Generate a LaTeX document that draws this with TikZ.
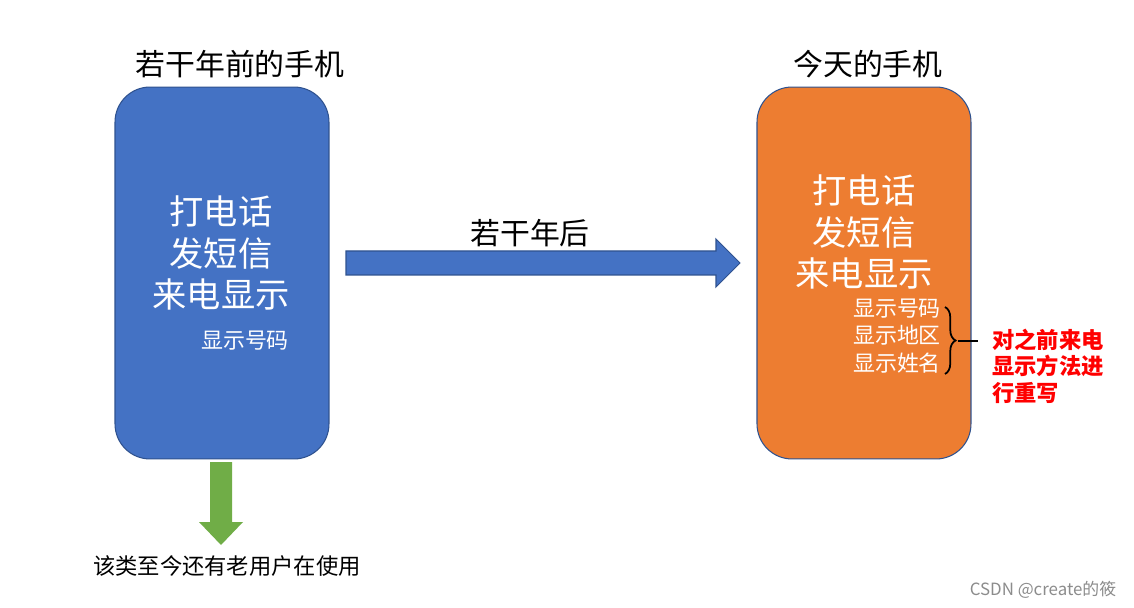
\documentclass[tikz,border=0pt]{standalone}
\usepackage{fontspec}
\setmainfont{Noto Sans CJK SC}
\usetikzlibrary{decorations.pathreplacing}
\definecolor{bluef}{HTML}{4472C4}
\definecolor{blued}{HTML}{2F528F}
\definecolor{orangef}{HTML}{ED7D31}
\definecolor{greenf}{HTML}{70AD47}
\definecolor{redt}{HTML}{FF0000}
\newcommand\ftitle{\fontsize{17}{20}\selectfont}
\newcommand\fbig{\fontsize{19.5}{23.8}\selectfont}
\newcommand\fsmall{\fontsize{12.5}{15.6}\selectfont}
\newcommand\fnote{\fontsize{12.7}{15}\selectfont}
\newcommand\fmark{\fontsize{9.6}{11}\selectfont}
\begin{document}
\begin{tikzpicture}[x=0.02cm,y=-0.02cm,
  phone/.style={draw=blued, line width=0.6pt, rounded corners=0.7cm,
    minimum width=4.28cm, minimum height=7.44cm, inner sep=0pt},
  bigtxt/.style={text=white, align=center, inner sep=0pt, font=\fbig},
  smalltxt/.style={text=white, align=center, inner sep=0pt, font=\fsmall},
  titletxt/.style={text=black, inner sep=0pt, font=\ftitle},
  arrowshape/.style={line width=0.6pt}]
\useasboundingbox (0,0) rectangle (1134,608);
\fill[white] (0,0) rectangle (1134,608);
% phones
\node[phone, fill=bluef] (old) at (222,273) {};
\node[phone, fill=orangef] (new) at (864,273) {};
% titles
\node[titletxt] (t1) at (240,64) {若干年前的手机};
\node[titletxt] (t2) at (868,64) {今天的手机};
% old phone text
\node[bigtxt] (oldtxt) at (221,253) {打电话\\发短信\\来电显示};
\node[smalltxt] (oldnum) at (245,341) {显示号码};
% new phone text
\node[bigtxt] (newtxt) at (864,232) {打电话\\发短信\\来电显示};
\node[smalltxt] (newsmall) at (897,336) {显示号码\\显示地区\\显示姓名};
% blue arrow
\draw[arrowshape, draw=blued, fill=bluef] (346,251) -- (716,251) -- (716,239) -- (740,263) -- (716,287) -- (716,275) -- (346,275) -- cycle;
\node[titletxt] (later) at (530,233) {若干年后};
% brace
\coordinate (bt) at (945,307);
\coordinate (bb) at (945,374);
\draw[line width=1pt, decorate, decoration={brace, amplitude=6pt}] (bt) -- (bb);
\coordinate (btip) at (958,341);
\node[text=redt, align=left, anchor=west, inner sep=0pt, font={\fnote\bfseries}] (note) at (992,366) {对之前来电\\显示方法进\\行重写};
\draw[line width=1pt] (btip) -- ([xshift=-0.28cm]note.west |- btip);
% green arrow
\fill[greenf] (210,462) -- (232,462) -- (232,522) -- (243,522) -- (221,545) -- (199,522) -- (210,522) -- cycle;
\node[text=black, inner sep=0pt, font=\fnote] (still) at (227,566) {该类至今还有老用户在使用};
% watermark
\node[text=black!45, inner sep=0pt, font=\fmark] (wm) at (1043,590) {CSDN @create的筱};
\end{tikzpicture}
\end{document}
